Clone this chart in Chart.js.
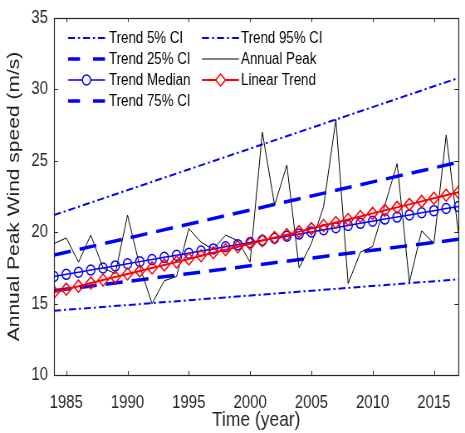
<!DOCTYPE html>
<html>
<head>
<meta charset="utf-8">
<script src="https://cdn.jsdelivr.net/npm/chart.js@4/dist/chart.umd.min.js"></script>
<style>
html,body{margin:0;padding:0;background:#fff;}
#wrap{width:465px;height:433px;overflow:hidden;}
#c{display:block;width:465px;height:433px;}
</style>
</head>
<body>
<div id="wrap"><canvas id="c" width="560" height="433" style="width:465px;height:433px;"></canvas></div>
<script>
// ---- data ----
const years = [1984,1985,1986,1987,1988,1989,1990,1991,1992,1993,1994,1995,1996,1997,1998,1999,2000,
  2001,2002,2003,2004,2005,2006,2007,2008,2009,2010,2011,2012,2013,2014,2015,2016,2017];
const annualPeak = [19.2,19.6,17.9,19.8,17.5,17.1,21.2,17.6,15.0,16.6,16.9,20.25,19.3,18.8,19.8,19.4,17.9,
  27.0,21.9,24.7,17.5,19.2,21.8,27.9,16.4,18.6,19.0,21.9,24.8,16.5,20.1,19.2,26.8,20.0];
const trendMedian = [16.90,17.05,17.20,17.35,17.49,17.64,17.79,17.94,18.09,18.24,18.39,18.53,18.68,18.83,18.98,19.13,19.28,
  19.43,19.58,19.72,19.87,20.02,20.17,20.32,20.47,20.62,20.77,20.92,21.06,21.21,21.36,21.51,21.66,21.80];
const linearTrend = [15.80,16.01,16.22,16.44,16.65,16.86,17.07,17.28,17.50,17.71,17.92,18.13,18.35,18.56,18.77,18.98,19.19,
  19.41,19.62,19.83,20.04,20.25,20.47,20.68,20.89,21.10,21.32,21.53,21.74,21.95,22.16,22.38,22.59,22.80];
const ciYears = [1984, 2017];
const ci5 = [14.5, 16.7];
const ci95 = [21.2, 30.8];
const ci25 = [15.9, 19.5];
const ci75 = [18.4, 24.9];
const xTicks = [1985,1990,1995,2000,2005,2010,2015];
const yTicks = [10,15,20,25,30,35];

// the reference figure is horizontally compressed; draw on a wider buffer shown at 465px
const R = 465 / 560;
const X = v => v / R;

const pts = (xs, ys) => xs.map((x, i) => ({x: x, y: ys[i]}));
const FONT = "'Liberation Sans',Arial,Helvetica,sans-serif";
const AX = '#262626';
const BLUE = '#0000ff';
const DD = [X(7), X(3), X(2), X(3)];
const DS = [X(17), X(9)];

const datasets = [
  {label:'Trend 5% CI', data:pts(ciYears,ci5), borderColor:BLUE, borderWidth:2, borderDash:DD, legendDash:DD, pointRadius:0, order:7},
  {label:'Trend 95% CI', data:pts(ciYears,ci95), borderColor:BLUE, borderWidth:2, borderDash:DD, legendDash:DD, pointRadius:0, order:6},
  {label:'Trend 25% CI', data:pts(ciYears,ci25), borderColor:BLUE, borderWidth:3.5, borderDash:DS, legendDash:[X(12),X(13)], pointRadius:0, order:5},
  {label:'Annual Peak', data:pts(years,annualPeak), borderColor:'#000000', borderWidth:1, pointRadius:0, order:4},
  {label:'Trend Median', data:pts(years,trendMedian), borderColor:BLUE, borderWidth:1.5, pointStyle:'circle', pointRadius:5, pointBorderWidth:1.5, pointBackgroundColor:'rgba(0,0,0,0)', pointBorderColor:BLUE, order:3},
  {label:'Linear Trend', data:pts(years,linearTrend), borderColor:'#ff0000', borderWidth:2, pointStyle:'rectRot', pointRadius:6, pointBorderWidth:1.5, pointBackgroundColor:'rgba(0,0,0,0)', pointBorderColor:'#ff0000', order:2},
  {label:'Trend 75% CI', data:pts(ciYears,ci75), borderColor:BLUE, borderWidth:3.5, borderDash:DS, legendDash:[X(12),X(13)], pointRadius:0, order:1}
];

const matlabFrame = {
  id:'matlabFrame',
  afterDraw(chart){
    const ctx = chart.ctx, a = chart.chartArea;
    const xs = chart.scales.x, ys = chart.scales.y;
    ctx.save();
    ctx.strokeStyle = AX; ctx.lineWidth = 1.2; ctx.setLineDash([]);
    ctx.strokeRect(Math.round(a.left)+0.5, Math.round(a.top)+0.5, Math.round(a.right-a.left), Math.round(a.bottom-a.top));
    const tl = 4;
    ctx.lineWidth = 1;
    ctx.beginPath();
    xs.ticks.forEach(t => {
      const px = Math.round(xs.getPixelForValue(t.value))+0.5;
      ctx.moveTo(px, a.bottom); ctx.lineTo(px, a.bottom-tl);
      ctx.moveTo(px, a.top); ctx.lineTo(px, a.top+tl);
    });
    ys.ticks.forEach(t => {
      const py = Math.round(ys.getPixelForValue(t.value))+0.5;
      ctx.moveTo(a.left, py); ctx.lineTo(a.left+X(tl), py);
      ctx.moveTo(a.right, py); ctx.lineTo(a.right-X(tl), py);
    });
    ctx.stroke();

    // legend (inside axes, two columns, row-wise)
    const col = [{x0:X(68), x1:X(105), tx:X(109)}, {x0:X(202), x1:X(239), tx:X(241)}];
    const row0 = 38, rowH = 21;
    ctx.font = '16px ' + FONT;
    ctx.textBaseline = 'middle';
    ctx.textAlign = 'left';
    chart.data.datasets.forEach((ds, i) => {
      const c = col[i % 2], y = row0 + Math.floor(i/2)*rowH;
      ctx.strokeStyle = ds.borderColor;
      ctx.lineWidth = ds.borderWidth;
      ctx.setLineDash(ds.legendDash || []);
      ctx.beginPath(); ctx.moveTo(c.x0, y); ctx.lineTo(c.x1, y); ctx.stroke();
      ctx.setLineDash([]);
      if (ds.pointRadius > 0) {
        const mx = (c.x0 + c.x1)/2, r = ds.pointRadius;
        ctx.fillStyle = '#fff';
        ctx.lineWidth = ds.pointBorderWidth;
        ctx.strokeStyle = ds.pointBorderColor;
        ctx.beginPath();
        if (ds.pointStyle === 'circle') { ctx.arc(mx, y, r, 0, Math.PI*2); }
        else { ctx.moveTo(mx, y-r); ctx.lineTo(mx+r, y); ctx.lineTo(mx, y+r); ctx.lineTo(mx-r, y); ctx.closePath(); }
        ctx.fill(); ctx.stroke();
      }
      ctx.fillStyle = '#000';
      ctx.fillText(ds.label, c.tx, y + 1);
    });
    ctx.restore();
  }
};

new Chart(document.getElementById('c'), {
  type:'line',
  data:{datasets:datasets},
  options:{
    responsive:false,
    animation:false,
    devicePixelRatio:1,
    layout:{padding:{left:0, right:X(2), top:15, bottom:0}},
    plugins:{legend:{display:false}, tooltip:{enabled:false}},
    elements:{line:{tension:0}},
    scales:{
      x:{
        type:'linear', min:1984, max:2017,
        afterBuildTicks: s => { s.ticks = xTicks.map(v => ({value:v})); },
        afterFit: s => { s.height = 58; },
        grid:{display:false, drawTicks:false},
        border:{display:false},
        ticks:{color:AX, font:{family:FONT, size:18}, padding:17, maxRotation:0, autoSkip:false, callback: v => String(v)},
        title:{display:true, text:'Time (year)', color:'#222', font:{family:FONT, size:21}, padding:{top:0, bottom:0}}
      },
      y:{
        type:'linear', min:10, max:35,
        afterBuildTicks: s => { s.ticks = yTicks.map(v => ({value:v})); },
        afterFit: s => { s.width = X(54); },
        grid:{display:false, drawTicks:false},
        border:{display:false},
        ticks:{color:AX, font:{family:FONT, size:18}, padding:X(6), callback: v => String(v)},
        title:{display:true, text:'Annual Peak Wind speed (m/s)', color:'#222', font:{family:FONT, size:21}, padding:{top:5, bottom:0}}
      }
    }
  },
  plugins:[matlabFrame]
});
</script>
</body>
</html>
